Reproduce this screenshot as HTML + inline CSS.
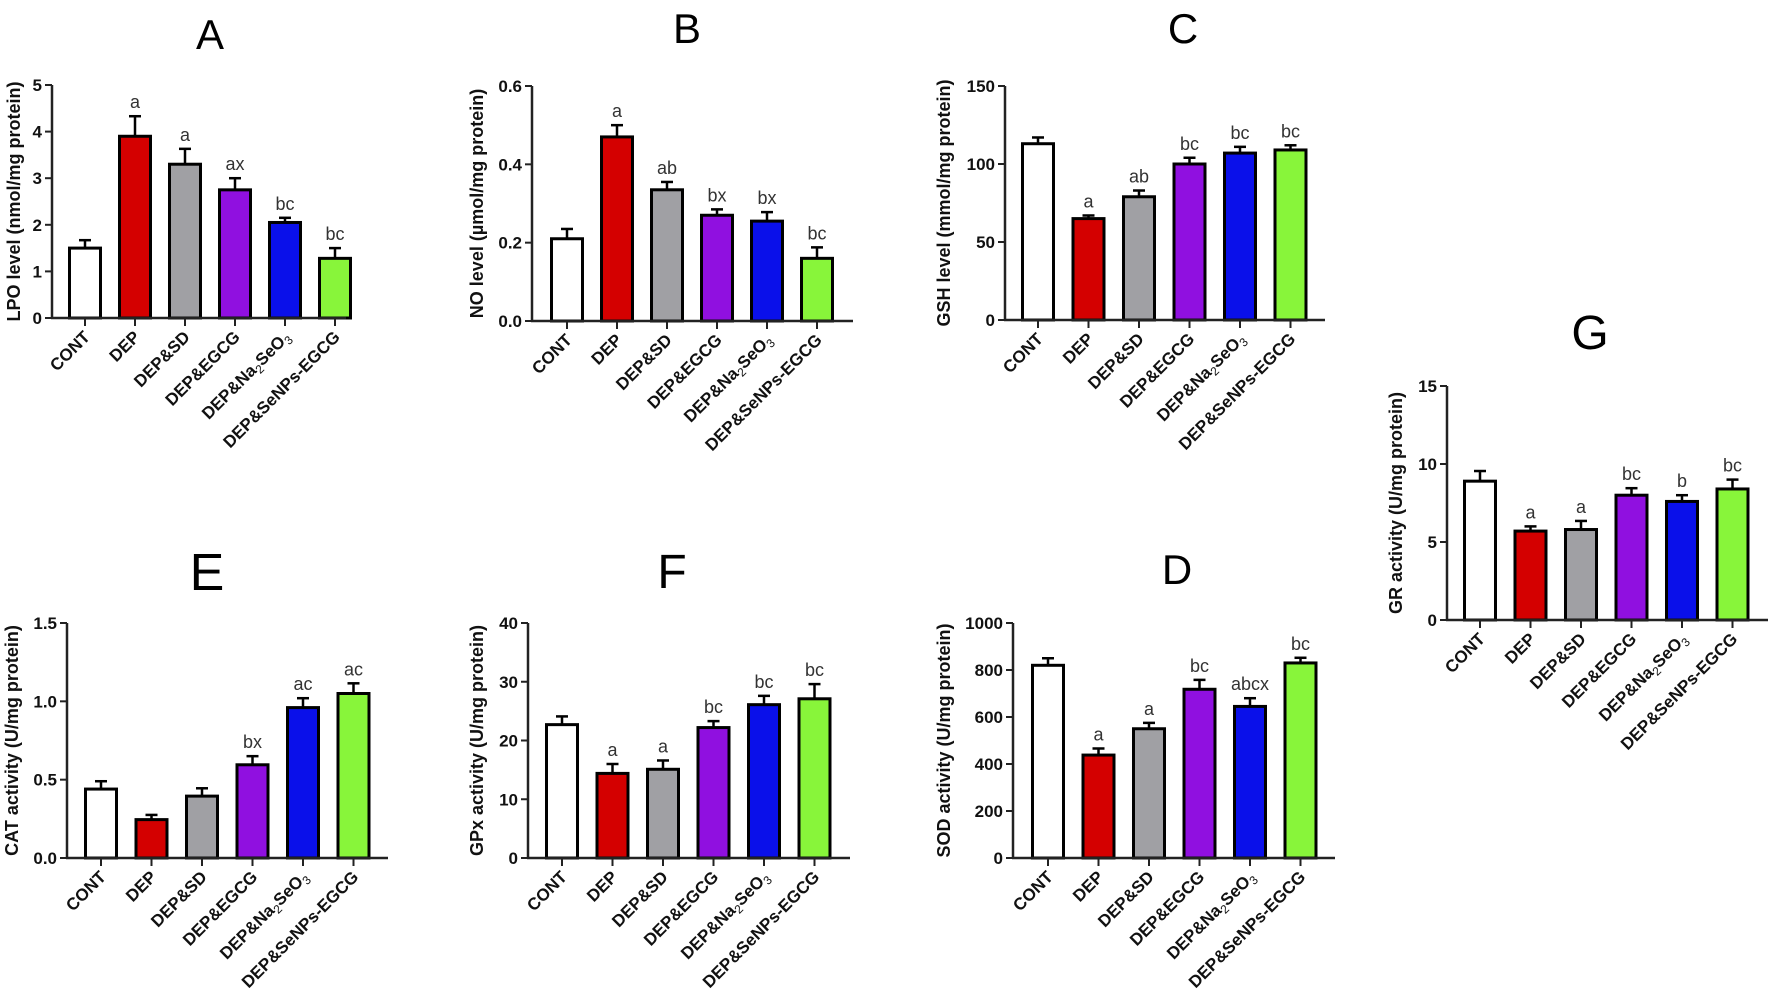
<!DOCTYPE html>
<html><head><meta charset="utf-8"><style>
html,body{margin:0;padding:0;background:#fff;}
svg{display:block;}
text{font-family:"Liberation Sans",Arial,sans-serif;}
</style></head>
<body>
<svg id="fig" width="1772" height="1003" viewBox="0 0 1772 1003" xmlns="http://www.w3.org/2000/svg"></svg>
<script>
const categories = ["CONT","DEP","DEP&SD","DEP&EGCG","DEP&Na2SeO3","DEP&SeNPs-EGCG"];
const colors = ["#ffffff","#d40000","#a0a0a4","#9010e0","#0a10ea","#88f53a"];
const valuesA = [1.5,3.9,3.3,2.75,2.05,1.28];
const errorsA = [0.17,0.43,0.33,0.25,0.1,0.22];
const lettersA = ["","a","a","ax","bc","bc"];
const ticksA = [0,1,2,3,4,5];
const valuesB = [0.21,0.47,0.335,0.27,0.255,0.16];
const errorsB = [0.025,0.03,0.02,0.015,0.023,0.028];
const lettersB = ["","a","ab","bx","bx","bc"];
const ticksB = [0,0.2,0.4,0.6];
const valuesC = [113,65,79,100,107,109];
const errorsC = [4,2,4,4,4,3];
const lettersC = ["","a","ab","bc","bc","bc"];
const ticksC = [0,50,100,150];
const valuesE = [0.44,0.245,0.395,0.595,0.96,1.05];
const errorsE = [0.05,0.03,0.05,0.055,0.06,0.065];
const lettersE = ["","","","bx","ac","ac"];
const ticksE = [0,0.5,1.0,1.5];
const valuesF = [22.7,14.4,15.1,22.2,26.1,27.1];
const errorsF = [1.4,1.6,1.5,1.1,1.5,2.5];
const lettersF = ["","a","a","bc","bc","bc"];
const ticksF = [0,10,20,30,40];
const valuesD = [820,438,550,718,645,830];
const errorsD = [30,28,25,40,35,22];
const lettersD = ["","a","a","bc","abcx","bc"];
const ticksD = [0,200,400,600,800,1000];
const valuesG = [8.9,5.7,5.8,8.0,7.6,8.4];
const errorsG = [0.65,0.3,0.55,0.45,0.4,0.6];
const lettersG = ["","a","a","bc","b","bc"];
const ticksG = [0,5,10,15];

const NS = "http://www.w3.org/2000/svg";
const svg = document.getElementById("fig");
function mk(tag, attrs, parent){
  const e = document.createElementNS(NS, tag);
  for (const k in attrs) e.setAttribute(k, attrs[k]);
  (parent||svg).appendChild(e);
  return e;
}
function fmt(v, dec){ return dec ? v.toFixed(dec) : String(v); }

function panel(cfg){
  const g = mk("g", {});
  
  
  const max = cfg.ticks[cfg.ticks.length-1];
  const y = v => cfg.y0 - (v/max)*(cfg.y0 - cfg.yTop);
  const x = i => cfg.cx0 + i*cfg.step;
  const t = mk("text", {x:cfg.lx, y:cfg.ly, "font-size":cfg.lfs, "text-anchor":"middle", fill:"#000"}, g);
  t.textContent = cfg.id;
  
  
  const yt = mk("text", {x:0, y:0, "font-size":18, "font-weight":"bold", "text-anchor":"middle",
    transform:`translate(${cfg.ytx},${(cfg.y0+cfg.yTop)/2}) rotate(-90)`, fill:"#111"}, g);
  yt.textContent = cfg.ytitle;
  
  
  cfg.values.forEach((v,i)=>{
    const cx = x(i), top = y(v), eTop = y(v + cfg.errors[i]);
    const el = mk("line", {x1:cx, x2:cx, y1:top, y2:eTop, stroke:"#000", "stroke-width":2.5}, g);
    
    
    const cap = mk("line", {x1:cx-6, x2:cx+6, y1:eTop, y2:eTop, stroke:"#000", "stroke-width":2.5}, g);
    
    
    const r = mk("rect", {x:cx-cfg.bw/2, y:top, width:cfg.bw, height:cfg.y0-top, fill:colors[i], stroke:"#000", "stroke-width":3}, g);
    
    
    if (cfg.letters[i]) {
      const lt = mk("text", {x:cx, y:eTop-8, "font-size":18, "text-anchor":"middle", fill:"#333"}, g);
      lt.textContent = cfg.letters[i];
      
      
    }
    mk("line", {x1:cx, x2:cx, y1:cfg.y0, y2:cfg.y0+8, stroke:"#222", "stroke-width":2}, g);
    const cl = mk("text", {x:0, y:0, "font-size":17, "font-weight":"bold", "text-anchor":"end", fill:"#111",
      transform:`translate(${cx+6},${cfg.y0+20}) rotate(-45)`}, g);
    
    
    const name = categories[i];
    if (name === "DEP&Na2SeO3") {
      cl.appendChild(document.createTextNode("DEP&Na"));
      const s1 = mk("tspan", {"font-size":12, "font-weight":"normal", dy:4}, cl); s1.textContent = "2";
      const s2 = mk("tspan", {dy:-4}, cl); s2.textContent = "SeO";
      const s3 = mk("tspan", {"font-size":12, "font-weight":"normal", dy:4}, cl); s3.textContent = "3";
    } else cl.textContent = name;
  });
  const ya = mk("line", {x1:cfg.ax, x2:cfg.ax, y1:cfg.yTop, y2:cfg.y0+1, stroke:"#222", "stroke-width":2.5}, g);
  
  
  const xa = mk("line", {x1:cfg.ax-1, x2:cfg.axEnd, y1:cfg.y0, y2:cfg.y0, stroke:"#222", "stroke-width":2.5}, g);
  
  
  cfg.ticks.forEach(tv=>{
    const ty = y(tv);
    mk("line", {x1:cfg.ax-7, x2:cfg.ax, y1:ty, y2:ty, stroke:"#222", "stroke-width":2}, g);
    const tl = mk("text", {x:cfg.ax-10, y:ty+6, "font-size":17, "font-weight":"bold", "text-anchor":"end", fill:"#111"}, g);
    tl.textContent = fmt(tv, cfg.dec);
    
    
  });
}

panel({id:"A", values:valuesA, errors:errorsA, letters:lettersA, ticks:ticksA, dec:0,
  ax:52, axEnd:346, yTop:85, y0:318, cx0:85, step:50, bw:31, lx:210, ly:49, lfs:42, ytx:20,
  ytitle:"LPO level (nmol/mg protein)"});
panel({id:"B", values:valuesB, errors:errorsB, letters:lettersB, ticks:ticksB, dec:1,
  ax:532, axEnd:853, yTop:86, y0:321, cx0:567, step:50, bw:31, lx:687, ly:43, lfs:42, ytx:483,
  ytitle:"NO level (µmol/mg protein)"});
panel({id:"C", values:valuesC, errors:errorsC, letters:lettersC, ticks:ticksC, dec:0,
  ax:1005, axEnd:1325, yTop:86, y0:320, cx0:1038, step:50.5, bw:31, lx:1183, ly:43, lfs:42, ytx:950,
  ytitle:"GSH level (mmol/mg protein)"});
panel({id:"E", values:valuesE, errors:errorsE, letters:lettersE, ticks:ticksE, dec:1,
  ax:67, axEnd:388, yTop:623, y0:858, cx0:101, step:50.5, bw:31, lx:207, ly:590, lfs:52, ytx:18,
  ytitle:"CAT activity (U/mg protein)"});
panel({id:"F", values:valuesF, errors:errorsF, letters:lettersF, ticks:ticksF, dec:0,
  ax:528, axEnd:850, yTop:623, y0:858, cx0:562, step:50.5, bw:31, lx:672, ly:588, lfs:48, ytx:483,
  ytitle:"GPx activity (U/mg protein)"});
panel({id:"D", values:valuesD, errors:errorsD, letters:lettersD, ticks:ticksD, dec:0,
  ax:1013, axEnd:1335, yTop:623, y0:858, cx0:1048, step:50.5, bw:31, lx:1177, ly:584, lfs:42, ytx:950,
  ytitle:"SOD activity (U/mg protein)"});
panel({id:"G", values:valuesG, errors:errorsG, letters:lettersG, ticks:ticksG, dec:0,
  ax:1447, axEnd:1768, yTop:386, y0:620, cx0:1480, step:50.5, bw:31, lx:1590, ly:349, lfs:48, ytx:1402,
  ytitle:"GR activity (U/mg protein)"});
</script>
</body></html>
